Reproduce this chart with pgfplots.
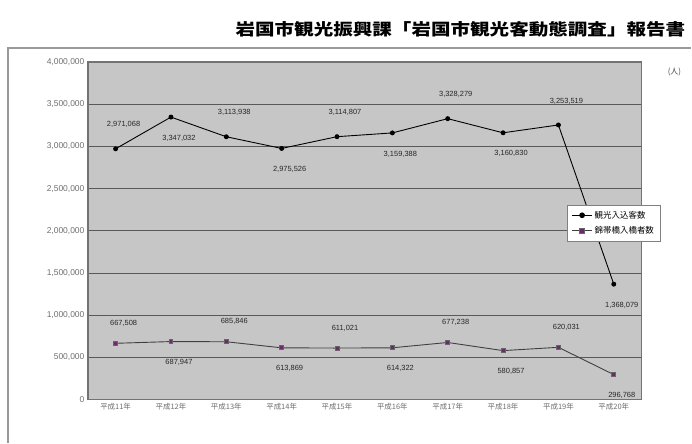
\documentclass[border=0pt]{standalone}
\usepackage{fontspec}
\setmainfont{Liberation Sans}
\newfontfamily\cjk{Noto Sans CJK JP}
\usepackage{graphicx}
\usepackage{pgfplots}
\usepackage{pgfplotstable}
\pgfplotsset{compat=1.18}

\definecolor{plotgray}{RGB}{198,198,198}
\definecolor{tickgray}{RGB}{110,110,110}
\definecolor{mk}{RGB}{110,40,110}

% 観光入込客数
\pgfplotstableread{
x y
0 2971068
1 3347032
2 3113938
3 2975526
4 3114807
5 3159388
6 3328279
7 3160830
8 3253519
9 1368079
}\visitors

% 錦帯橋入橋者数
\pgfplotstableread{
x y
0 667508
1 687947
2 685846
3 613869
4 611021
5 614322
6 677238
7 580857
8 620031
9 296768
}\bridge

\begin{document}
\begin{tikzpicture}
\begin{axis}[
  scale only axis, width=554bp, height=338bp,
  xmin=-0.5, xmax=9.5, ymin=0, ymax=4000000,
  xtick={0,...,9},
  xticklabels={平成11年,平成12年,平成13年,平成14年,平成15年,平成16年,平成17年,平成18年,平成19年,平成20年},
  xticklabel style={font=\cjk\fontsize{7.5}{8}\selectfont, text=tickgray},
  ytick={0,500000,1000000,1500000,2000000,2500000,3000000,3500000,4000000},
  scaled y ticks=false,
  yticklabel style={font=\fontsize{8.5}{9}\selectfont, text=tickgray,
    /pgf/number format/.cd, fixed, 1000 sep={,}, assume math mode=true},
  major tick length=0pt,
  axis background/.style={fill=plotgray},
  ymajorgrids, grid style={draw=black!65, line width=0.9pt},
  axis line style={draw=black!55, line width=1.3pt},
  legend style={at={(0.866,0.577)}, anchor=north west, draw=black!50, fill=white,
    font=\cjk\fontsize{8.5}{9}\selectfont, cells={anchor=west}, inner sep=4pt,
    row sep=3pt},
  legend image post style={scale=1.2},
  lbl/.style={draw=none, mark=none, forget plot, nodes near coords,
    every node near coord/.append style={anchor=center, font=\fontsize{7.5}{8}\selectfont,
      black!85, yshift=#1, xshift=8bp,
      /pgf/number format/.cd, fixed, precision=0, 1000 sep={,}, assume math mode=true}},
  even/.style={x filter/.expression={mod(x,2)==0 ? x : nan}},
  odd/.style={x filter/.expression={mod(x,2)==1 ? x : nan}},
  unbounded coords=discard, filter discard warning=false,
]
\addplot[black, line width=0.9pt, mark=*, mark size=2pt, mark options={fill=black}] table[x=x, y=y] {\visitors};
\addplot[black!75, line width=0.9pt, mark=square*, mark size=2pt, mark options={fill=mk, draw=black!60}] table[x=x, y=y] {\bridge};
\legend{観光入込客数, 錦帯橋入橋者数}
\addplot[lbl=24bp, even] table[x=x, y=y] {\visitors};
\addplot[lbl=-21bp, odd] table[x=x, y=y] {\visitors};
\addplot[lbl=20bp, even] table[x=x, y=y] {\bridge};
\addplot[lbl=-21bp, odd] table[x=x, y=y] {\bridge};
\end{axis}
\draw[black!40, line width=1.2pt] (-80bp,-43bp) -- (-80bp,352bp) -- (604bp,352bp);
\node[anchor=east, inner sep=0pt] at (598bp,371bp)
  {\resizebox{450bp}{14bp}{\cjk\bfseries 岩国市観光振興課「岩国市観光客動態調査」報告書}};
\node[anchor=center, font=\cjk\fontsize{8}{9}\selectfont, text=black!70] at (587bp,328bp) {(人)};
\path[use as bounding box] (-88bp,-43bp) rectangle (604bp,400bp);
\end{tikzpicture}
\end{document}
